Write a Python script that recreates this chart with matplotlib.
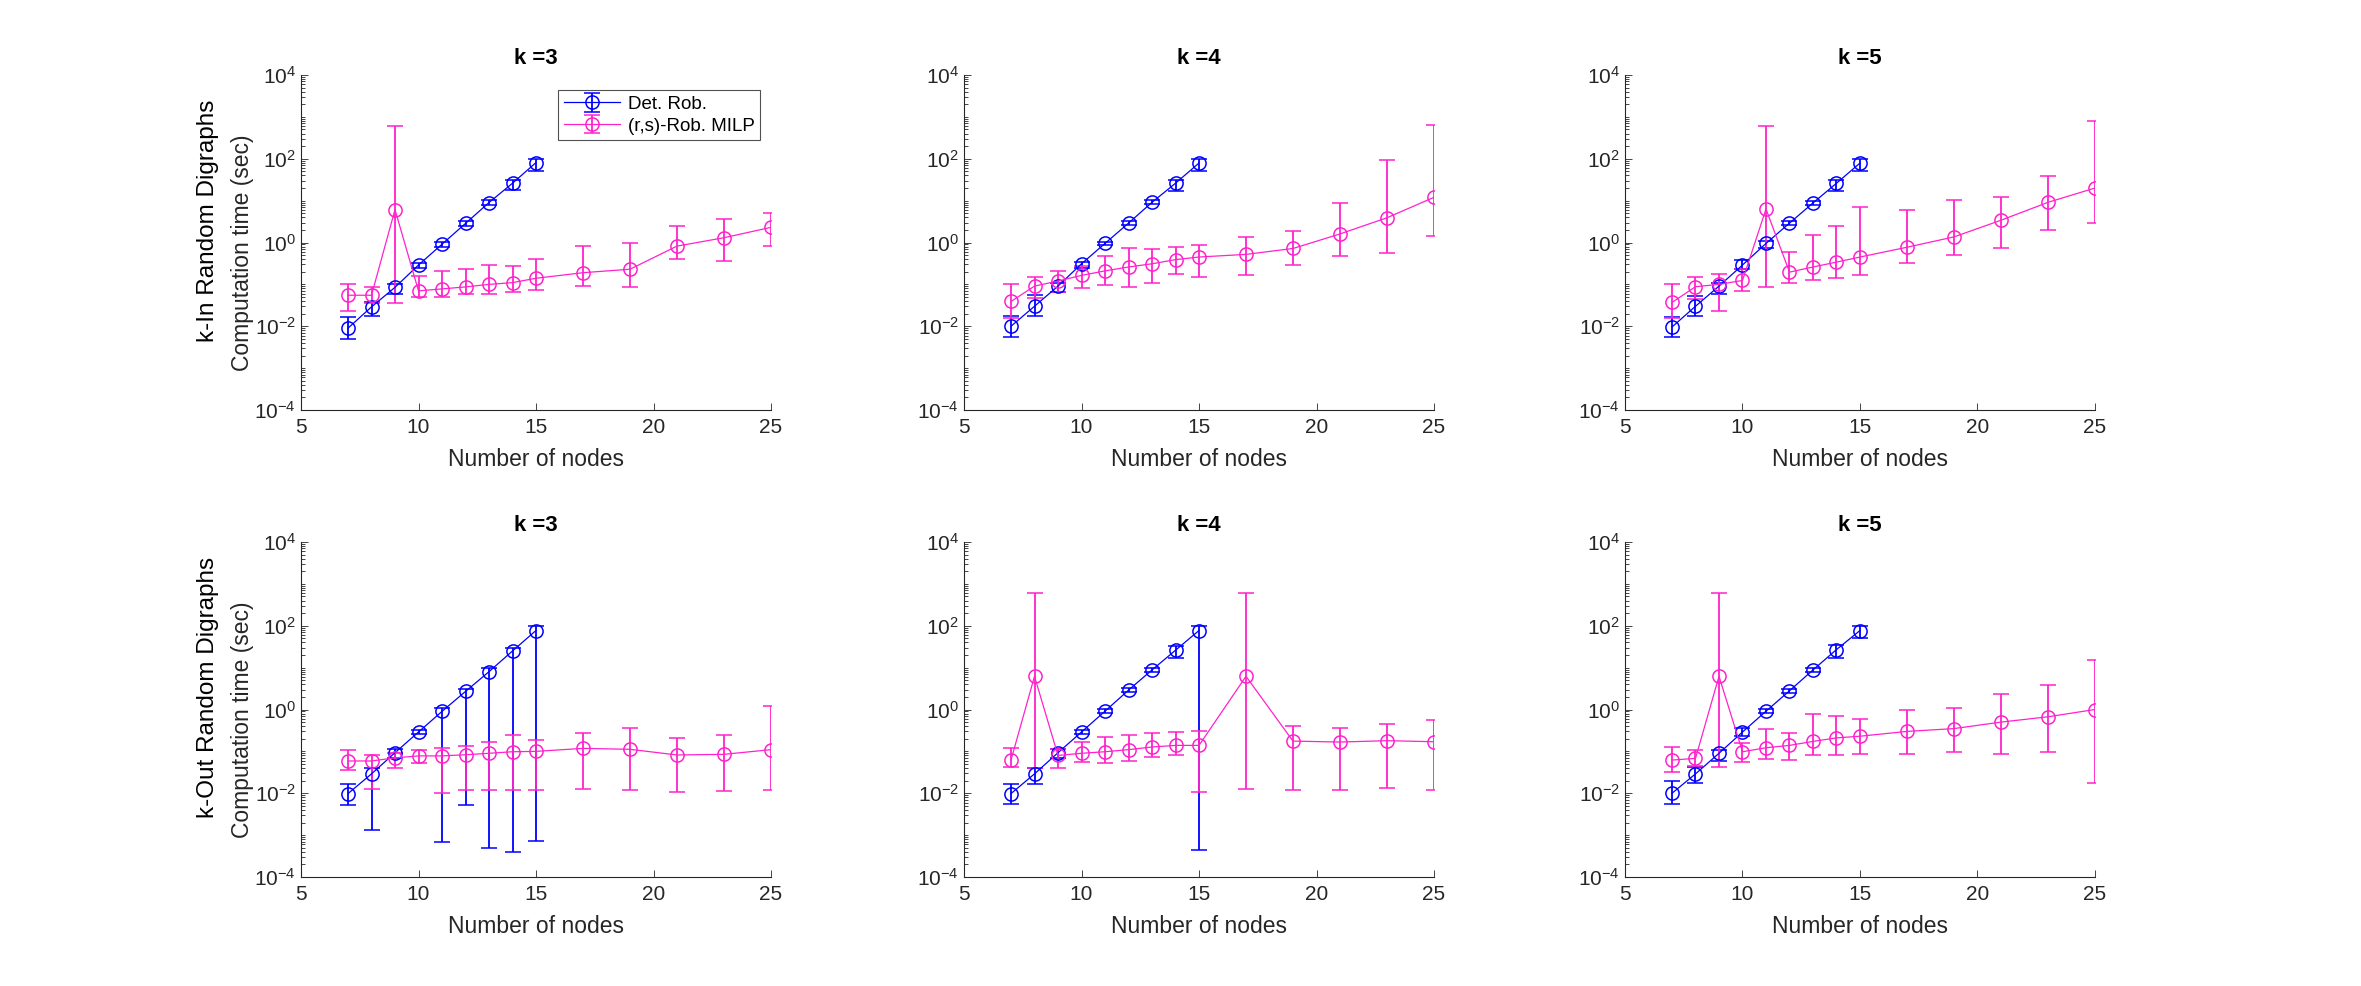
import numpy as np
import matplotlib
matplotlib.use('Agg')
import matplotlib.pyplot as plt
from matplotlib.ticker import LogLocator, FixedLocator, NullFormatter

plt.rcParams['font.family'] = ['Liberation Sans', 'DejaVu Sans']
plt.rcParams['mathtext.fontset'] = 'custom'
plt.rcParams['mathtext.rm'] = 'Liberation Sans'
plt.rcParams['mathtext.it'] = 'Liberation Sans'

nodes_det = [7, 8, 9, 10, 11, 12, 13, 14, 15]
nodes_milp = [7, 8, 9, 10, 11, 12, 13, 14, 15, 17, 19, 21, 23, 25]

# k-In random digraphs
in_k3_det = [0.009, 0.029, 0.085, 0.29, 0.91, 2.85, 9.0, 26, 81]
in_k3_det_lo = [0.005, 0.018, 0.06, 0.25, 0.8, 2.5, 8.0, 18, 50]
in_k3_det_hi = [0.017, 0.038, 0.10, 0.33, 1.02, 3.2, 10.2, 31, 100]
in_k3_milp = [0.055, 0.055, 6.1, 0.07, 0.078, 0.087, 0.10, 0.11, 0.14, 0.19, 0.23, 0.82, 1.3, 2.3]
in_k3_milp_lo = [0.023, 0.035, 0.035, 0.05, 0.049, 0.06, 0.059, 0.066, 0.073, 0.09, 0.087, 0.40, 0.36, 0.84]
in_k3_milp_hi = [0.10, 0.087, 600, 0.16, 0.21, 0.227, 0.29, 0.28, 0.41, 0.83, 0.98, 2.5, 3.6, 5.2]

in_k4_det = [0.01, 0.030, 0.091, 0.31, 0.95, 2.9, 9.1, 26, 79]
in_k4_det_lo = [0.0054, 0.018, 0.064, 0.25, 0.85, 2.6, 8.1, 17, 50]
in_k4_det_hi = [0.018, 0.055, 0.11, 0.35, 1.05, 3.2, 10.2, 31, 98]
in_k4_milp = [0.039, 0.091, 0.12, 0.164, 0.21, 0.26, 0.31, 0.39, 0.45, 0.52, 0.72, 1.6, 3.9, 12]
in_k4_milp_lo = [0.016, 0.047, 0.064, 0.083, 0.095, 0.088, 0.106, 0.18, 0.15, 0.17, 0.29, 0.47, 0.57, 1.4]
in_k4_milp_hi = [0.10, 0.15, 0.21, 0.28, 0.47, 0.73, 0.71, 0.76, 0.86, 1.36, 1.86, 8.8, 91, 630]

in_k5_det = [0.0096, 0.030, 0.091, 0.29, 0.95, 2.9, 8.8, 26, 79]
in_k5_det_lo = [0.0054, 0.018, 0.058, 0.23, 0.75, 2.6, 7.9, 17, 50]
in_k5_det_hi = [0.017, 0.053, 0.11, 0.39, 1.08, 3.2, 9.8, 31, 98]
in_k5_milp = [0.037, 0.088, 0.10, 0.124, 6.3, 0.196, 0.26, 0.34, 0.45, 0.77, 1.36, 3.4, 9.1, 20]
in_k5_milp_lo = [0.016, 0.044, 0.023, 0.069, 0.088, 0.106, 0.13, 0.144, 0.17, 0.33, 0.49, 0.75, 2.0, 2.9]
in_k5_milp_hi = [0.104, 0.15, 0.18, 0.23, 610, 0.59, 1.55, 2.45, 7.1, 5.9, 10.2, 12.2, 39, 800]

# k-Out random digraphs
out_k3_det = [0.0098, 0.029, 0.093, 0.29, 0.9, 2.7, 8.0, 25, 77]
out_k3_det_lo = [0.0052, 0.0013, 0.071, 0.26, 0.00069, 0.0052, 0.00049, 0.0004, 0.00074]
out_k3_det_hi = [0.017, 0.039, 0.116, 0.33, 1.07, 3.1, 9.6, 30, 100]
out_k3_milp = [0.059, 0.059, 0.07, 0.078, 0.078, 0.083, 0.09, 0.098, 0.10, 0.118, 0.112, 0.082, 0.085, 0.11]
out_k3_milp_lo = [0.035, 0.0125, 0.039, 0.052, 0.0104, 0.012, 0.012, 0.012, 0.012, 0.0125, 0.012, 0.011, 0.0114, 0.012]
out_k3_milp_hi = [0.108, 0.083, 0.093, 0.108, 0.12, 0.134, 0.17, 0.24, 0.19, 0.27, 0.36, 0.21, 0.245, 1.2]

out_k4_det = [0.0098, 0.029, 0.093, 0.29, 0.91, 2.9, 8.8, 26, 77]
out_k4_det_lo = [0.0055, 0.017, 0.07, 0.26, 0.82, 2.6, 7.9, 17, 0.00045]
out_k4_det_hi = [0.017, 0.04, 0.116, 0.33, 1.02, 3.2, 9.8, 32, 100]
out_k4_milp = [0.062, 6.2, 0.08, 0.09, 0.098, 0.11, 0.127, 0.139, 0.139, 6.2, 0.176, 0.167, 0.18, 0.17]
out_k4_milp_lo = [0.043, 0.04, 0.039, 0.056, 0.052, 0.058, 0.075, 0.08, 0.011, 0.0125, 0.012, 0.012, 0.0136, 0.012]
out_k4_milp_hi = [0.12, 620, 0.116, 0.17, 0.22, 0.25, 0.28, 0.29, 0.30, 620, 0.40, 0.37, 0.45, 0.55]

out_k5_det = [0.01, 0.029, 0.09, 0.29, 0.91, 2.8, 8.8, 27, 77]
out_k5_det_lo = [0.0055, 0.018, 0.059, 0.23, 0.82, 2.5, 7.9, 17, 50]
out_k5_det_hi = [0.02, 0.043, 0.11, 0.37, 1.02, 3.1, 9.8, 34, 100]
out_k5_milp = [0.062, 0.068, 6.2, 0.098, 0.122, 0.139, 0.173, 0.21, 0.23, 0.30, 0.35, 0.50, 0.67, 1.0]
out_k5_milp_lo = [0.032, 0.045, 0.043, 0.057, 0.067, 0.062, 0.08, 0.083, 0.088, 0.088, 0.096, 0.085, 0.098, 0.018]
out_k5_milp_hi = [0.127, 0.108, 620, 0.155, 0.35, 0.28, 0.76, 0.69, 0.58, 0.96, 1.06, 2.4, 3.9, 15]

panels = [
    [(3, in_k3_det, in_k3_det_lo, in_k3_det_hi, in_k3_milp, in_k3_milp_lo, in_k3_milp_hi),
     (4, in_k4_det, in_k4_det_lo, in_k4_det_hi, in_k4_milp, in_k4_milp_lo, in_k4_milp_hi),
     (5, in_k5_det, in_k5_det_lo, in_k5_det_hi, in_k5_milp, in_k5_milp_lo, in_k5_milp_hi)],
    [(3, out_k3_det, out_k3_det_lo, out_k3_det_hi, out_k3_milp, out_k3_milp_lo, out_k3_milp_hi),
     (4, out_k4_det, out_k4_det_lo, out_k4_det_hi, out_k4_milp, out_k4_milp_lo, out_k4_milp_hi),
     (5, out_k5_det, out_k5_det_lo, out_k5_det_hi, out_k5_milp, out_k5_milp_lo, out_k5_milp_hi)],
]
row_labels = ['k-In Random Digraphs', 'k-Out Random Digraphs']

blue = '#0000ff'
pink = '#ff22cc'
axcol = '#262626'

W, H = 2361, 986
fig = plt.figure(figsize=(W / 100, H / 100), dpi=100)

lefts = [301, 964, 1625]
tops = [75, 542]
aw, ah = 470, 335


def yerr(m, lo, hi):
    m = np.array(m); lo = np.array(lo); hi = np.array(hi)
    return [m - lo, hi - m]


for r in range(2):
    for c in range(3):
        k, dm, dlo, dhi, mm, mlo, mhi = panels[r][c]
        ax = fig.add_axes([lefts[c] / W, 1 - (tops[r] + ah) / H, aw / W, ah / H])
        ax.errorbar(nodes_det, dm, yerr=yerr(dm, dlo, dhi), color=blue, lw=0.9,
                    marker='o', ms=9.5, mfc='none', mew=1.1, elinewidth=1.3,
                    capsize=6, capthick=1.3, label='Det. Rob.')
        ax.errorbar(nodes_milp, mm, yerr=yerr(mm, mlo, mhi), color=pink, lw=0.9,
                    marker='o', ms=9.5, mfc='none', mew=1.1, elinewidth=1.3,
                    capsize=6, capthick=1.3, label='(r,s)-Rob. MILP')
        ax.set_yscale('log')
        ax.set_ylim(1e-4, 1e4)
        ax.set_xlim(5, 25)
        ax.set_xticks([5, 10, 15, 20, 25])
        ax.yaxis.set_major_locator(FixedLocator([1e-4, 1e-2, 1, 1e2, 1e4]))
        ax.yaxis.set_minor_locator(LogLocator(base=10, subs=np.arange(1, 10), numticks=50))
        ax.yaxis.set_minor_formatter(NullFormatter())
        for s in ['top', 'right']:
            ax.spines[s].set_visible(False)
        for s in ['left', 'bottom']:
            ax.spines[s].set_color(axcol)
            ax.spines[s].set_linewidth(0.8)
        ax.tick_params(which='both', direction='in', colors=axcol, labelsize=15, width=0.6)
        ax.tick_params(which='major', length=5)
        ax.tick_params(which='minor', length=3)
        ax.tick_params(axis='x', pad=6)
        ax.set_xlabel('Number of nodes', fontsize=16.5, color=axcol, labelpad=8)
        ax.set_title(f'k ={k}', fontsize=16, fontweight='bold', pad=8)
        if r == 0 and c == 0:
            leg = ax.legend(loc='upper right', bbox_to_anchor=(0.977, 0.955), fontsize=13.5,
                            frameon=True, fancybox=False, edgecolor=axcol, borderaxespad=0,
                            handlelength=3.0, handletextpad=0.4, borderpad=0.3,
                            labelspacing=0.25)
            leg.get_frame().set_linewidth(0.8)
    yc = tops[r] + ah / 2
    fig.text(208 / W, 1 - (yc - 22) / H, row_labels[r], rotation=90, ha='center',
             va='center', fontsize=17.5)
    fig.text(243 / W, 1 - (yc + 10) / H, 'Computation time (sec)', rotation=90,
             ha='center', va='center', fontsize=16.5, color=axcol)

fig.savefig('out.png', dpi=100, facecolor='white')
